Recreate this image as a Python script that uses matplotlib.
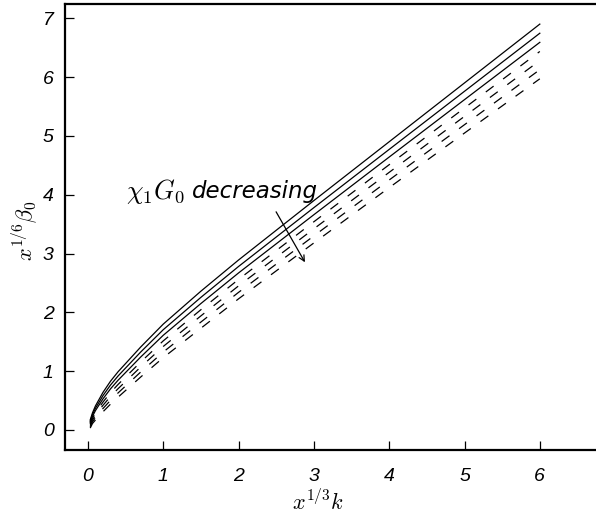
import numpy as np
import matplotlib
matplotlib.use('Agg')
import matplotlib.pyplot as plt

# x^(1/3) k sample points
k = [0.03, 0.06, 0.1, 0.2, 0.3, 0.4, 0.7, 1.0, 1.5, 2.0, 3.0, 4.0, 5.0, 6.0]

# x^(1/6) beta_0 for decreasing chi_1 G_0 (first three solid, rest dashed)
beta_1 = [0.17, 0.29, 0.41, 0.64, 0.83, 0.99, 1.41, 1.80, 2.36, 2.89, 3.90, 4.90, 5.90, 6.90]
beta_2 = [0.147, 0.26, 0.37, 0.585, 0.765, 0.918, 1.325, 1.705, 2.255, 2.78, 3.78, 4.77, 5.758, 6.745]
beta_3 = [0.124, 0.23, 0.33, 0.53, 0.70, 0.846, 1.24, 1.61, 2.15, 2.67, 3.66, 4.64, 5.616, 6.59]
beta_4 = [0.101, 0.20, 0.29, 0.475, 0.635, 0.774, 1.155, 1.515, 2.045, 2.56, 3.54, 4.51, 5.474, 6.435]
beta_5 = [0.078, 0.17, 0.25, 0.42, 0.57, 0.702, 1.07, 1.42, 1.94, 2.45, 3.42, 4.38, 5.332, 6.28]
beta_6 = [0.055, 0.14, 0.21, 0.365, 0.505, 0.63, 0.985, 1.325, 1.835, 2.34, 3.30, 4.25, 5.19, 6.125]
beta_7 = [0.032, 0.11, 0.17, 0.31, 0.44, 0.558, 0.90, 1.23, 1.73, 2.23, 3.18, 4.12, 5.048, 5.97]

plt.rcParams['mathtext.fontset'] = 'cm'
tick_font = {'family': 'Liberation Sans', 'style': 'italic', 'size': 14}

fig = plt.figure(figsize=(5.96, 5.17), dpi=100)
ax = fig.add_axes([0.109, 0.1296, 0.891, 0.8636])

for b in [beta_1, beta_2, beta_3]:
    ax.plot(k, b, color='black', lw=0.9)
for b in [beta_4, beta_5, beta_6, beta_7]:
    ax.plot(k, b, color='black', lw=0.9, ls=(0, (7.8, 9.5)))

ax.set_xlim(-0.305, 6.746)
ax.set_ylim(-0.34, 7.25)

ax.set_xticks([0, 1, 2, 3, 4, 5, 6])
ax.set_yticks([0, 1, 2, 3, 4, 5, 6, 7])
ax.set_xticklabels(['0', '1', '2', '3', '4', '5', '6'], fontdict=tick_font)
ax.set_yticklabels(['0', '1', '2', '3', '4', '5', '6', '7'], fontdict=tick_font)
ax.tick_params(axis='x', direction='in', length=6.5, width=0.9, pad=13)
ax.tick_params(axis='y', direction='in', length=6.5, width=0.9, pad=8)

ax.spines['right'].set_visible(False)
for s in ['left', 'bottom', 'top']:
    ax.spines[s].set_linewidth(1.6)

ax.set_xlabel(r'$x^{1/3}k$', fontsize=16)
ax.set_ylabel(r'$x^{1/6}\beta_0$', fontsize=16)
ax.xaxis.set_label_coords(0.476, -0.088)
ax.yaxis.set_label_coords(-0.047, 0.49)

# label and arrow showing the direction of decreasing chi_1 G_0
ax.text(0.50, 4.06, r'$\chi_1G_0$', fontsize=19, va='center', ha='left')
ax.text(1.38, 4.06, 'decreasing', fontsize=16.5, style='italic',
        family='DejaVu Sans', va='center', ha='left')
ax.annotate('', xy=(2.90, 2.81), xytext=(2.48, 3.75),
            arrowprops=dict(arrowstyle='->', lw=0.9, color='black'))

plt.savefig('out.png', dpi=100)
